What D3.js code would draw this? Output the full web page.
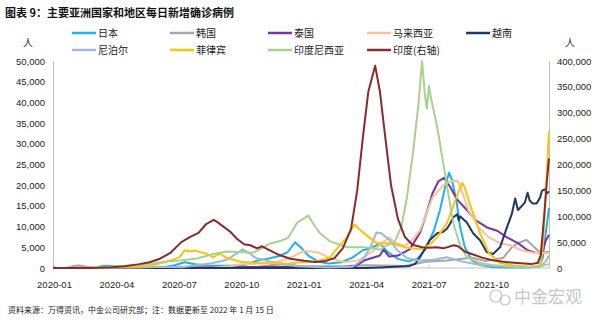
<!DOCTYPE html>
<html><head><meta charset="utf-8">
<script src="https://cdn.jsdelivr.net/npm/d3@7"></script>
<style>
body{margin:0;background:#fff;}
svg{display:block;font-family:"Liberation Sans",Arial,"Noto Sans CJK SC",sans-serif;}
.cjk{font-family:"Noto Sans CJK SC","Liberation Sans",sans-serif;}
</style></head>
<body><svg id="c" width="600" height="324"></svg>
<script>
const title = "图表 9：主要亚洲国家和地区每日新增确诊病例";
const source = "资料来源：万得资讯，中金公司研究部；注：数据更新至 2022 年 1 月 15 日";
const xTickLabels = ["2020-01","2020-04","2020-07","2020-10","2021-01","2021-04","2021-07","2021-10"];
const leftTicks = [0,5000,10000,15000,20000,25000,30000,35000,40000,45000,50000];
const rightTicks = [0,50000,100000,150000,200000,250000,300000,350000,400000];

const japan = [["2020-02-25",20],["2020-03-25",150],["2020-04-12",550],["2020-04-25",400],["2020-05-15",60],["2020-06-15",50],["2020-07-05",200],["2020-07-20",600],["2020-08-05",1400],["2020-08-20",900],["2020-09-10",550],["2020-10-10",550],["2020-11-01",750],["2020-11-20",1900],["2020-12-05",2300],["2020-12-20",2900],["2021-01-01",3800],["2021-01-12",6200],["2021-01-20",5000],["2021-01-31",3000],["2021-02-15",1500],["2021-03-01",1100],["2021-03-20",1400],["2021-04-05",2500],["2021-04-20",4300],["2021-05-05",5000],["2021-05-15",6000],["2021-05-25",4000],["2021-06-10",2200],["2021-06-25",1600],["2021-07-08",2200],["2021-07-20",4500],["2021-08-01",9000],["2021-08-10",14000],["2021-08-18",20000],["2021-08-23",23000],["2021-08-27",21500],["2021-09-03",16000],["2021-09-08",10000],["2021-09-15",5000],["2021-09-25",1900],["2021-10-07",700],["2021-10-25",250],["2021-11-20",120],["2021-12-20",200],["2022-01-01",500],["2022-01-06",2500],["2022-01-10",8000],["2022-01-15",14500]];
const korea = [["2020-02-15",20],["2020-02-28",550],["2020-03-05",600],["2020-03-20",200],["2020-04-15",40],["2020-06-01",40],["2020-07-01",50],["2020-08-28",300],["2020-09-15",150],["2020-10-15",80],["2020-11-20",300],["2020-12-25",1000],["2021-01-20",450],["2021-02-20",420],["2021-03-20",430],["2021-04-20",650],["2021-05-20",600],["2021-06-20",500],["2021-07-20",1500],["2021-08-20",1800],["2021-09-25",2500],["2021-10-15",1700],["2021-11-10",2500],["2021-11-22",5000],["2021-12-01",6000],["2021-12-13",6800],["2021-12-22",5500],["2022-01-02",3700],["2022-01-15",3900]];
const thailand = [["2020-03-25",120],["2020-04-15",30],["2020-06-01",5],["2020-12-20",300],["2021-01-10",300],["2021-02-10",150],["2021-03-20",100],["2021-04-10",500],["2021-04-22",1800],["2021-05-01",2300],["2021-05-15",3000],["2021-05-20",4500],["2021-05-28",2800],["2021-06-10",3000],["2021-06-27",4500],["2021-07-12",8500],["2021-07-22",13500],["2021-07-30",18000],["2021-08-08",21000],["2021-08-16",21800],["2021-08-25",19500],["2021-09-04",16500],["2021-09-18",14000],["2021-10-01",11500],["2021-10-17",9800],["2021-11-01",9000],["2021-11-15",7400],["2021-12-01",6000],["2021-12-15",4300],["2021-12-28",3600],["2022-01-05",3500],["2022-01-10",6500],["2022-01-15",8000]];
const malaysia = [["2020-03-20",150],["2020-04-10",150],["2020-05-10",50],["2020-09-15",50],["2020-10-10",400],["2020-10-25",900],["2020-11-15",1000],["2020-12-05",1200],["2020-12-25",1800],["2021-01-10",2900],["2021-01-25",4100],["2021-02-05",4000],["2021-02-17",3600],["2021-03-03",2400],["2021-03-25",1400],["2021-04-15",1900],["2021-04-25",3000],["2021-05-10",4800],["2021-05-28",7400],["2021-06-05",6200],["2021-06-20",5300],["2021-07-02",7000],["2021-07-12",9100],["2021-07-20",12500],["2021-07-30",17000],["2021-08-15",20000],["2021-08-25",21000],["2021-09-05",21000],["2021-09-12",18000],["2021-09-20",14000],["2021-10-05",9800],["2021-10-20",7400],["2021-11-05",6000],["2021-11-20",5500],["2021-12-05",4300],["2021-12-25",3600],["2022-01-15",3600]];
const vietnam = [["2020-01-27",0],["2021-04-25",10],["2021-05-15",150],["2021-06-05",300],["2021-06-27",500],["2021-07-05",1000],["2021-07-12",2600],["2021-07-26",6700],["2021-08-06",8400],["2021-08-14",8700],["2021-08-20",9500],["2021-08-25",10800],["2021-08-29",12200],["2021-09-04",13000],["2021-09-06",11500],["2021-09-08",12500],["2021-09-18",11000],["2021-09-27",8400],["2021-10-07",6700],["2021-10-17",3800],["2021-10-26",3400],["2021-11-05",5000],["2021-11-15",9800],["2021-11-22",13000],["2021-11-27",16800],["2021-12-01",14000],["2021-12-11",15800],["2021-12-15",18200],["2021-12-18",16300],["2021-12-22",15600],["2021-12-28",15600],["2022-01-02",17000],["2022-01-05",18700],["2022-01-09",19000],["2022-01-12",18000],["2022-01-15",18500]];
const nepal = [["2020-03-25",0],["2020-06-01",150],["2020-07-01",300],["2020-08-01",200],["2020-08-25",700],["2020-09-15",1200],["2020-10-05",2000],["2020-10-20",3600],["2020-10-28",4500],["2020-11-05",3800],["2020-11-15",2500],["2020-12-01",1800],["2020-12-20",1000],["2021-01-15",400],["2021-03-01",100],["2021-04-05",300],["2021-04-20",2000],["2021-05-01",5000],["2021-05-10",8600],["2021-05-17",8400],["2021-05-29",6700],["2021-06-09",4300],["2021-06-23",2400],["2021-07-10",1800],["2021-08-01",2000],["2021-08-20",2600],["2021-09-10",1600],["2021-10-05",800],["2021-11-01",500],["2021-12-01",200],["2022-01-01",250],["2022-01-10",1500],["2022-01-15",3000]];
const philippines = [["2020-03-15",50],["2020-04-10",250],["2020-05-15",250],["2020-06-15",500],["2020-07-10",1500],["2020-07-28",2500],["2020-08-05",4300],["2020-08-12",4000],["2020-08-20",4200],["2020-08-28",3800],["2020-09-05",3500],["2020-09-15",2600],["2020-09-25",3500],["2020-10-05",2400],["2020-10-25",1500],["2020-11-15",1200],["2020-12-10",1300],["2021-01-01",1000],["2021-01-15",1300],["2021-02-10",1500],["2021-03-03",2500],["2021-03-15",5000],["2021-03-28",7400],["2021-04-08",10500],["2021-04-20",8600],["2021-05-10",6000],["2021-06-01",6000],["2021-06-20",5000],["2021-07-12",4500],["2021-07-25",5500],["2021-08-06",7400],["2021-08-20",10800],["2021-09-01",16300],["2021-09-11",20600],["2021-09-15",19400],["2021-09-22",15600],["2021-10-07",8400],["2021-10-20",3600],["2021-11-05",1200],["2021-11-25",600],["2021-12-20",300],["2022-01-02",600],["2022-01-06",5000],["2022-01-10",17000],["2022-01-15",33000]];
const indonesia = [["2020-03-25",100],["2020-04-20",300],["2020-05-15",550],["2020-06-01",700],["2020-06-20",1100],["2020-07-10",1600],["2020-07-30",1800],["2020-08-23",2300],["2020-09-15",3400],["2020-10-05",4000],["2020-10-28",3800],["2020-11-12",3700],["2020-11-25",4800],["2020-12-05",5800],["2020-12-21",6500],["2021-01-02",7300],["2021-01-15",11000],["2021-01-25",12000],["2021-01-31",12700],["2021-02-08",10500],["2021-02-17",8400],["2021-03-03",6500],["2021-03-15",5800],["2021-03-28",5000],["2021-04-20",5000],["2021-05-05",4800],["2021-05-15",4400],["2021-05-25",5500],["2021-06-05",6200],["2021-06-15",10000],["2021-06-23",17000],["2021-07-02",28000],["2021-07-10",40000],["2021-07-15",50000],["2021-07-19",42000],["2021-07-22",38500],["2021-07-25",44000],["2021-07-28",41000],["2021-08-06",34000],["2021-08-12",28000],["2021-08-20",20000],["2021-08-29",11000],["2021-09-08",5500],["2021-09-18",2600],["2021-10-07",1200],["2021-10-25",700],["2021-11-15",450],["2021-12-15",250],["2022-01-05",500],["2022-01-15",1000]];
const india = [["2020-01-27",0],["2020-03-15",80],["2020-04-01",300],["2020-04-20",1300],["2020-05-10",3500],["2020-05-31",7500],["2020-06-15",11000],["2020-06-30",18000],["2020-07-15",29000],["2020-07-31",50000],["2020-08-13",60000],["2020-08-25",68000],["2020-09-05",85000],["2020-09-16",93000],["2020-09-22",88000],["2020-09-30",80000],["2020-10-10",70000],["2020-10-20",56000],["2020-10-30",46000],["2020-11-08",44000],["2020-11-18",38000],["2020-11-25",42000],["2020-12-05",35000],["2020-12-20",25000],["2021-01-05",18000],["2021-01-25",14000],["2021-02-10",11500],["2021-02-25",13500],["2021-03-10",19000],["2021-03-22",38000],["2021-04-03",75000],["2021-04-12",150000],["2021-04-20",250000],["2021-04-28",340000],["2021-05-08",391000],["2021-05-15",340000],["2021-05-22",260000],["2021-05-31",160000],["2021-06-10",95000],["2021-06-20",60000],["2021-07-01",45000],["2021-07-15",40000],["2021-07-25",39000],["2021-08-05",40000],["2021-08-15",38000],["2021-08-30",44000],["2021-09-05",42000],["2021-09-15",32000],["2021-09-25",27000],["2021-10-10",20000],["2021-10-25",15000],["2021-11-10",12000],["2021-11-30",9500],["2021-12-20",7500],["2021-12-30",10000],["2022-01-03",25000],["2022-01-08",100000],["2022-01-12",170000],["2022-01-15",212000]];

const seriesNames = ["日本","韩国","泰国","马来西亚","越南","尼泊尔","菲律宾","印度尼西亚","印度(右轴)"];
const seriesData = [japan,korea,thailand,malaysia,vietnam,nepal,philippines,indonesia,india];
const seriesColors = ["#1fb1e8","#a6a6a6","#7436a2","#f8c49c","#1f3864","#9cb8dc","#ffc20e","#a9d18e","#8b2a2a"];
const seriesAxis = ["L","L","L","L","L","L","L","L","R"];

const svg = d3.select("#c");
const M = {l:53, r:549, t:61, b:268};
const parse = d3.timeParse("%Y-%m-%d");
const x = d3.scaleTime().domain([parse("2020-01-27"), parse("2022-01-15")]).range([M.l, M.r]);
const yL = d3.scaleLinear().domain([0,50000]).range([M.b, M.t]);
const yR = d3.scaleLinear().domain([0,400000]).range([M.b, M.t]);
const xLab = d3.scalePoint().domain(xTickLabels).range([54, 491]);

svg.append("text").attr("class","cjk").attr("x",5).attr("y",17).attr("font-size",11).attr("font-weight","bold").attr("fill","#111").text(title);

// axes
const gL = svg.append("g").attr("transform",`translate(${M.l},0)`)
  .call(d3.axisLeft(yL).tickValues(leftTicks).tickSize(0).tickPadding(8).tickFormat(d3.format(",")));
gL.select(".domain").attr("stroke","#bfbfbf");
const gR = svg.append("g").attr("transform",`translate(${M.r},0)`)
  .call(d3.axisRight(yR).tickValues(rightTicks).tickSize(0).tickPadding(8).tickFormat(d3.format(",")));
gR.select(".domain").attr("stroke","#bfbfbf");
const gX = svg.append("g").attr("transform",`translate(0,${M.b})`)
  .call(d3.axisBottom(xLab).tickSizeInner(-3).tickSizeOuter(0).tickPadding(13));
gX.select(".domain").remove();
gX.selectAll(".tick line").attr("stroke","#bfbfbf");
svg.append("line").attr("x1",M.l).attr("x2",M.r).attr("y1",M.b).attr("y2",M.b).attr("stroke","#bfbfbf");
svg.selectAll(".tick text").attr("font-size",9.5).attr("fill","#222").attr("font-family","Liberation Sans, Arial, sans-serif");

svg.append("text").attr("class","cjk").attr("x",28).attr("y",47).attr("text-anchor","middle").attr("font-size",10).attr("fill","#222").text("人");
svg.append("text").attr("class","cjk").attr("x",570).attr("y",47).attr("text-anchor","middle").attr("font-size",10).attr("fill","#222").text("人");

// lines
seriesData.forEach((data,i)=>{
  const ys = seriesAxis[i]==="R" ? yR : yL;
  const line = d3.line().x(d=>x(parse(d[0]))).y(d=>ys(d[1])).curve(d3.curveLinear);
  svg.append("path").datum(data).attr("d",line).attr("fill","none")
    .attr("stroke",seriesColors[i]).attr("stroke-width",2).attr("stroke-linejoin","round");
});

// legend
const legX = [72,170,268,367,466], legY = [33,50];
seriesNames.forEach((n,i)=>{
  const cx = legX[i%5], cy = legY[Math.floor(i/5)];
  const g = svg.append("g");
  g.append("line").attr("x1",cx).attr("x2",cx+24).attr("y1",cy).attr("y2",cy).attr("stroke",seriesColors[i]).attr("stroke-width",2.5);
  g.append("text").attr("class","cjk").attr("x",cx+26).attr("y",cy+3.5).attr("font-size",10).attr("fill","#222").text(n);
});

// watermark
const wm = svg.append("g").attr("opacity",0.55);
wm.append("circle").attr("cx",496).attr("cy",296).attr("r",6).attr("fill","none").attr("stroke","#999").attr("stroke-width",1.2);
wm.append("circle").attr("cx",505).attr("cy",300).attr("r",5).attr("fill","none").attr("stroke","#999").attr("stroke-width",1.2);
wm.append("text").attr("class","cjk").attr("x",514).attr("y",303).attr("font-size",17).attr("fill","#999").text("中金宏观");

svg.append("text").attr("class","cjk").attr("x",8).attr("y",313).attr("font-size",8).attr("fill","#222").text(source);
</script></body></html>
